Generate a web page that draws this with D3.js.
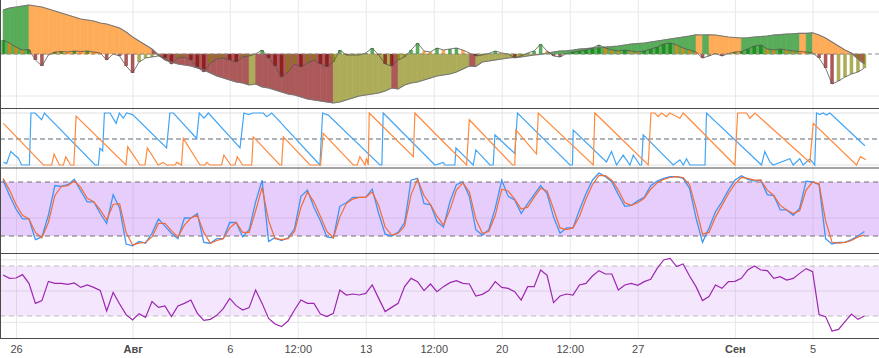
<!DOCTYPE html>
<html>
<head>
<meta charset="utf-8">
<script src="https://cdn.jsdelivr.net/npm/d3@7/dist/d3.min.js"></script>
<style>
  html, body { margin: 0; padding: 0; background: #fff; }
  svg { display: block; font-family: "Liberation Sans", Arial, sans-serif; }
</style>
</head>
<body>
<svg id="chart"></svg>
<script>
const width = 879, height = 358;

// x axis ticks
const tickDates = ["2018-07-26T00:00Z", "2018-08-01T00:00Z", "2018-08-06T00:00Z", "2018-08-09T12:00Z",
    "2018-08-13T00:00Z", "2018-08-16T12:00Z", "2018-08-20T00:00Z", "2018-08-23T12:00Z",
    "2018-08-27T00:00Z", "2018-09-01T00:00Z", "2018-09-05T00:00Z"];
const tickLabels = ["26", "Авг", "6", "12:00", "13", "12:00", "20", "12:00", "27", "Сен", "5"];
const monthLabels = ["Авг", "Сен"];

// indicator series on an 8h grid, first point 25 Jul 08:00 UTC
const gridStart = Date.UTC(2018, 6, 25, 8);
const gridStepHours = 8;

const momentumSlow = [44, 46, 47, 48, 49, 48, 47, 45, 43, 41,
    39, 37, 35, 34, 33, 31, 30, 28, 26, 22,
    17, 13, 9, 5, -1, -6, -8, -10, -11, -12,
    -14, -16, -19, -22, -24, -26, -28, -29, -31, -30,
    -33, -34, -36, -38, -40, -41, -43, -45, -46, -47,
    -48, -49, -48, -46, -44, -42, -41, -40, -39, -37,
    -34, -35, -31, -29, -28, -26, -24, -22, -21, -20,
    -18, -15, -12, -12.5, -8, -7, -6, -5, -4, -3.5,
    -3, -2, -1, -0.5, 1, 2, 3, 3.3, 4, 5,
    5.4, 6, 6.4, 7, 7.4, 8, 9, 10, 10.5, 11,
    12, 13, 14, 15, 16, 17, 18, 19.3, 19, 19.2,
    19, 18, 17, 16.5, 16, 16.2, 17, 17.5, 18, 19,
    19.4, 20, 20.3, 20.8, 20.6, 21.2, 19, 16, 12, 8,
    4, 1, -5, -10];

const momentumFast = [14, 11, 7, 4, 4.5, -6, -12, -1, 2, 2.5,
    2, 3, 2.5, 3, 2, 1, -6, 0, -2, -12,
    -19, -8, -4, -3, -2, -4, -10, -4, -3, -6,
    -13, -18, -9, -5, -4, -6, -8, -3, -2, 0,
    4, -4, -12, -23, -18, -10, -13, -9, -6, -10,
    -13, -8, 4, -1, -1, -1, 1, 6, -1, -10,
    -12, -6, -3, 4, 11, 3, 2, 6, 4, 5,
    6, 4, 1, -2, -1, 0.5, 3, 1, 0, -4,
    -2, 1, 3, 10, 3, -2, -3, 0.5, 2, 3,
    4, 6, 9, 6, 4, 3, 4, 3, 2, 3,
    5, 7, 10, 11, 9, 6, 4, 2, -4, -2,
    0.5, -2, 0.5, 2, 2.5, 5, 8, 9, 5, 4,
    5, 4, 3, 2.5, 2, 1, -4, -14, -30, -27,
    -23, -20, -18, -14];

const stochK = [82, 65, 50, 39, 39, 16, 19, 43, 76, 75,
    77, 83, 70, 58, 58, 45, 34, 66, 51, 11,
    9, 14, 12, 23, 39, 31, 23, 17, 40, 40,
    45, 13, 12, 17, 17, 35, 35, 19, 27, 58,
    82, 14, 18, 15, 18, 28, 64, 71, 52, 37,
    19, 18, 53, 57, 63, 63, 63, 72, 45, 22,
    20, 24, 35, 82, 84, 56, 55, 36, 30, 58,
    77, 80, 64, 27, 21, 27, 51, 82, 64, 60,
    45, 56, 66, 76, 67, 41, 23, 29, 29, 49,
    67, 82, 90, 86, 80, 66, 53, 54, 59, 63,
    76, 81, 84, 86, 86, 84, 73, 40, 13, 29,
    47, 58, 71, 82, 87, 83, 81, 82, 66, 65,
    49, 49, 43, 51, 81, 80, 77, 17, 11, 13,
    13, 16, 20, 25];

const stochD = [84, 71, 55, 43, 39, 24, 18, 35, 65, 75,
    76, 81, 74, 62, 58, 49, 38, 55, 56, 24,
    10, 12, 13, 19, 34, 34, 26, 19, 32, 40,
    43, 24, 12, 15, 17, 29, 35, 24, 24, 48,
    74, 37, 17, 16, 17, 25, 52, 69, 58, 42,
    25, 18, 41, 56, 61, 63, 63, 69, 54, 30,
    21, 23, 31, 66, 83, 65, 55, 42, 32, 49,
    71, 79, 69, 39, 23, 25, 43, 72, 70, 61,
    50, 52, 63, 73, 70, 50, 29, 27, 29, 42,
    61, 77, 87, 87, 82, 71, 57, 54, 57, 62,
    72, 79, 83, 85, 86, 85, 77, 51, 22, 24,
    41, 54, 67, 78, 85, 84, 82, 82, 71, 65,
    54, 49, 45, 48, 71, 80, 78, 37, 13, 12,
    13, 15, 19, 21];

const rsi = [62.8, 60.1, 60.4, 63.1, 56.1, 40.1, 42.3, 57.7, 56.1, 56.1,
    55.3, 56.4, 52.9, 54.8, 52.9, 50.5, 34, 48.9, 39.6, 31.1,
    26.8, 31.9, 28.9, 41.5, 36.9, 38, 29.5, 38, 40.1, 42.8,
    32.1, 26.5, 27.3, 30.5, 35.9, 44.1, 38.3, 34.8, 36.7, 50.8,
    40.1, 28.1, 23.6, 21.5, 26, 34.8, 42.8, 40.1, 40.1, 31.6,
    29.5, 32.1, 50.8, 46.8, 47.6, 46.8, 48.1, 54.8, 44.1, 33.5,
    36.9, 40.1, 53.5, 60.1, 57.5, 50.3, 55.6, 49.5, 53.5, 56.7,
    58.3, 56.1, 55.6, 46, 47.3, 50.3, 57.5, 52.9, 52.1, 49.5,
    42.8, 53.5, 53.5, 66.8, 62.5, 40.7, 46, 47.6, 46.8, 54.8,
    56.1, 62, 66.3, 63.6, 63.6, 50.8, 54.8, 56.1, 54.5, 57.5,
    59.3, 68.1, 74.8, 76.1, 69.5, 71.6, 62, 53.5, 42.3, 45.5,
    54.8, 52.1, 57.5, 57.7, 60.1, 66.8, 70, 66.8, 66.3, 60.1,
    61.5, 58.8, 60.1, 64.1, 67.9, 65.5, 31.1, 29.5, 18, 19.3,
    25.5, 31.6, 27.3, 30];

// aroon as [days since 26 Jul, value]
const aroonUp = [[-0.65, 80], [1.41, 0], [1.84, 0], [1.96, 21], [2.23, 0], [2.44, 0], [2.56, 16], [2.81, 0],
    [2.98, 0], [3.09, 94], [5.66, 0], [5.75, 35], [6.38, 0], [6.64, 0], [6.76, 33], [7.32, 0], [7.58, 5],
    [7.75, 0], [8.18, 0], [8.27, 5], [8.52, 0], [8.61, 51], [9.47, 0], [9.73, 0], [9.81, 5], [9.98, 0],
    [10.58, 0], [10.70, 19], [11.05, 0], [11.27, 0], [11.39, 16], [11.66, 0], [12.13, 0], [12.21, 54],
    [13.58, 0], [13.67, 0], [13.76, 54], [15.13, 0], [15.68, 0], [15.81, 61], [17.36, 0], [17.56, 0],
    [17.70, 16], [17.96, 0], [18.04, 13], [18.13, 0], [18.18, 100], [20.45, 16], [20.53, 100], [21.82, 51],
    [23.19, 0], [23.33, 87], [25.56, 0], [25.67, 0], [25.73, 67], [26.79, 21], [26.88, 100], [29.71, 0],
    [29.79, 100], [32.54, 0], [32.68, 100], [32.88, 100], [33.05, 93], [33.22, 100], [33.48, 93],
    [33.65, 100], [34.17, 90], [34.34, 100], [37.00, 0], [37.14, 100], [37.60, 100], [37.77, 90],
    [38.03, 100], [40.86, 5], [41.03, 80], [43.26, 0], [43.46, 16], [43.74, 10]];

const aroonDown = [[-0.65, 5], [-0.48, 3], [-0.27, 26], [0.12, 13], [0.29, 0], [0.69, 0], [0.77, 100],
    [0.98, 100], [1.32, 87], [1.46, 100], [4.07, 0], [4.24, 0], [4.32, 32], [4.46, 27], [4.55, 100],
    [4.84, 100], [5.15, 80], [5.32, 100], [5.52, 90], [5.69, 100], [6.00, 97], [7.75, 33], [7.92, 100],
    [8.10, 100], [9.30, 51], [9.43, 100], [9.67, 90], [9.90, 100], [11.53, 33], [11.73, 100], [11.96, 97],
    [12.21, 100], [12.73, 100], [12.90, 93], [13.16, 100], [13.41, 90], [15.64, 0], [15.78, 100],
    [16.07, 96], [18.73, 0], [18.83, 0], [18.90, 100], [21.56, 0], [21.99, 5], [22.08, 0], [22.59, 0],
    [22.64, 33], [23.53, 0], [23.67, 29], [24.39, 0], [24.56, 0], [24.65, 58], [25.67, 22], [25.81, 100],
    [28.51, 0], [28.64, 0], [28.68, 67], [30.39, 6], [30.65, 26], [30.91, 0], [31.25, 19], [31.60, 0],
    [31.77, 19], [32.11, 0], [32.20, 0], [32.28, 58], [33.83, 0], [34.17, 10], [34.34, 0], [34.51, 12],
    [34.68, 0], [35.46, 0], [35.54, 100], [38.37, 0], [38.54, 26], [38.80, 6], [38.97, 0], [39.83, 12],
    [40.00, 0], [40.34, 12], [40.51, 0], [40.86, 12], [41.11, 0], [41.20, 100], [41.37, 97], [41.54, 100],
    [41.71, 96], [41.89, 100], [43.69, 37]];

const svg = d3.select('#chart').attr('width', width).attr('height', height);

const x = d3.scaleUtc()
    .domain([new Date(Date.UTC(2018, 6, 25, 4, 14)), new Date(Date.UTC(2018, 8, 8, 10, 0))])
    .range([0, width]);

const gridDate = i => new Date(gridStart + i * gridStepHours * 3600e3);
const dayZero = Date.UTC(2018, 6, 26);
const dayDate = d => new Date(dayZero + d * 864e5);
const ticks = tickDates.map(d => new Date(d));
const axisY = 338.5;

// vertical grid through all panes
svg.append('g')
    .attr('transform', `translate(0,${axisY})`)
    .call(d3.axisBottom(x).tickValues(ticks).tickSize(-axisY).tickFormat(''))
    .call(g => g.select('.domain').remove())
    .call(g => g.selectAll('line').attr('stroke', '#e8e8e8'));

function hLine(y, color, dash) {
    svg.append('line')
        .attr('x1', 0).attr('x2', width)
        .attr('y1', y).attr('y2', y)
        .attr('stroke', color)
        .attr('stroke-dasharray', dash || null);
}

// ---------- pane 1: momentum ----------
const y1 = d3.scaleLinear().domain([-53, 53]).range([107, 1]);
[-42, 42].forEach(v => hLine(y1(v), '#e8e8e8'));

const slowPalette = {upRising: '#59ac59', upFalling: '#ffac59', downFalling: '#ac5959', downRising: '#acac59'};
const fastPalette = {upRising: '#008000', upFalling: '#ff8000', downFalling: '#800000', downRising: '#808000'};

function momentumColor(values, i, palette) {
    const v = values[i], prev = i > 0 ? values[i - 1] : v;
    if (v >= 0) return v >= prev ? palette.upRising : palette.upFalling;
    return v < prev ? palette.downFalling : palette.downRising;
}

const slowArea = d3.area()
    .x(i => x(gridDate(i)))
    .y0(y1(0))
    .y1(i => y1(momentumSlow[i]));

const pane1 = svg.append('g');
for (let i = 1; i < momentumSlow.length; i++) {
    const c = momentumColor(momentumSlow, i, slowPalette);
    pane1.append('path')
        .attr('d', slowArea([i - 1, i]))
        .attr('fill', c)
        .attr('stroke', c)
        .attr('stroke-width', 0.6);
}

const step = x(gridDate(1)) - x(gridDate(0));
const barW = step * 0.55;
pane1.append('g').selectAll('rect')
    .data(momentumFast)
    .join('rect')
    .attr('x', (d, i) => x(gridDate(i)) - barW / 2)
    .attr('y', d => Math.min(y1(d), y1(0)))
    .attr('width', barW)
    .attr('height', d => Math.abs(y1(d) - y1(0)))
    .attr('fill', (d, i) => momentumColor(momentumFast, i, fastPalette))
    .attr('fill-opacity', 0.65);

const gridLine = (values, y) => d3.line().x((d, i) => x(gridDate(i))).y(d => y(d))(values);

pane1.append('path')
    .attr('d', gridLine(momentumSlow, y1))
    .attr('fill', 'none').attr('stroke', '#777').attr('stroke-width', 1.1);
pane1.append('path')
    .attr('d', gridLine(momentumFast, y1))
    .attr('fill', 'none').attr('stroke', '#555').attr('stroke-width', 0.8);
hLine(y1(0), '#8a8a8a', '4,3');

// ---------- pane 2: aroon ----------
const y2 = d3.scaleLinear().domain([0, 100]).range([165, 113]);
[0, 100].forEach(v => hLine(y2(v), '#e0e0e0'));
hLine(y2(50), '#5c6b7a', '5,3');

const aroonLine = d3.line().x(d => x(dayDate(d[0]))).y(d => y2(d[1]));
svg.append('path').attr('d', aroonLine(aroonDown))
    .attr('fill', 'none').attr('stroke', '#42a5f5').attr('stroke-width', 1.2);
svg.append('path').attr('d', aroonLine(aroonUp))
    .attr('fill', 'none').attr('stroke', '#ff8a3d').attr('stroke-width', 1.2);

// ---------- pane 3: stoch rsi ----------
const y3 = d3.scaleLinear().domain([0, 100]).range([254, 164]);
hLine(y3(40), '#e4e4e4');
svg.append('rect')
    .attr('x', 0).attr('width', width)
    .attr('y', y3(80)).attr('height', y3(20) - y3(80))
    .attr('fill', 'rgba(186,112,246,0.35)');
hLine(y3(80), '#6e6e6e', '5,4');
hLine(y3(20), '#6e6e6e', '5,4');

svg.append('path').attr('d', gridLine(stochK, y3))
    .attr('fill', 'none').attr('stroke', '#3d95f5').attr('stroke-width', 1.3);
svg.append('path').attr('d', gridLine(stochD, y3))
    .attr('fill', 'none').attr('stroke', '#f26b35').attr('stroke-width', 1.2);

// ---------- pane 4: rsi ----------
const y4 = d3.scaleLinear().domain([0, 100]).range([353.5, 228.5]);
[25, 50, 75].forEach(v => hLine(y4(v), '#e4e4e4'));
svg.append('rect')
    .attr('x', 0).attr('width', width)
    .attr('y', y4(70)).attr('height', y4(30) - y4(70))
    .attr('fill', 'rgba(182,88,235,0.15)');
hLine(y4(70), '#bdbdbd', '5,4');
hLine(y4(30), '#bdbdbd', '5,4');

svg.append('path').attr('d', gridLine(rsi, y4))
    .attr('fill', 'none').attr('stroke', '#9c27b0').attr('stroke-width', 1.2);

// pane separators and left edge
[108.5, 168, 253.5, axisY].forEach(y => hLine(y, '#4a4a4a'));
svg.append('line')
    .attr('x1', 0.5).attr('x2', 0.5).attr('y1', 0).attr('y2', axisY)
    .attr('stroke', '#4a4a4a');

// time axis labels
svg.append('g')
    .attr('transform', `translate(0,${axisY})`)
    .call(d3.axisBottom(x).tickValues(ticks).tickSize(0).tickPadding(7)
        .tickFormat((d, i) => tickLabels[i]))
    .call(g => g.select('.domain').remove())
    .call(g => g.selectAll('text')
        .attr('font-family', '"Liberation Sans", Arial, sans-serif')
        .attr('font-size', 11)
        .attr('fill', d => '#4a4a4a')
        .attr('font-weight', (d, i) => monthLabels.includes(tickLabels[i]) ? 'bold' : 'normal'));
</script>
</body>
</html>
